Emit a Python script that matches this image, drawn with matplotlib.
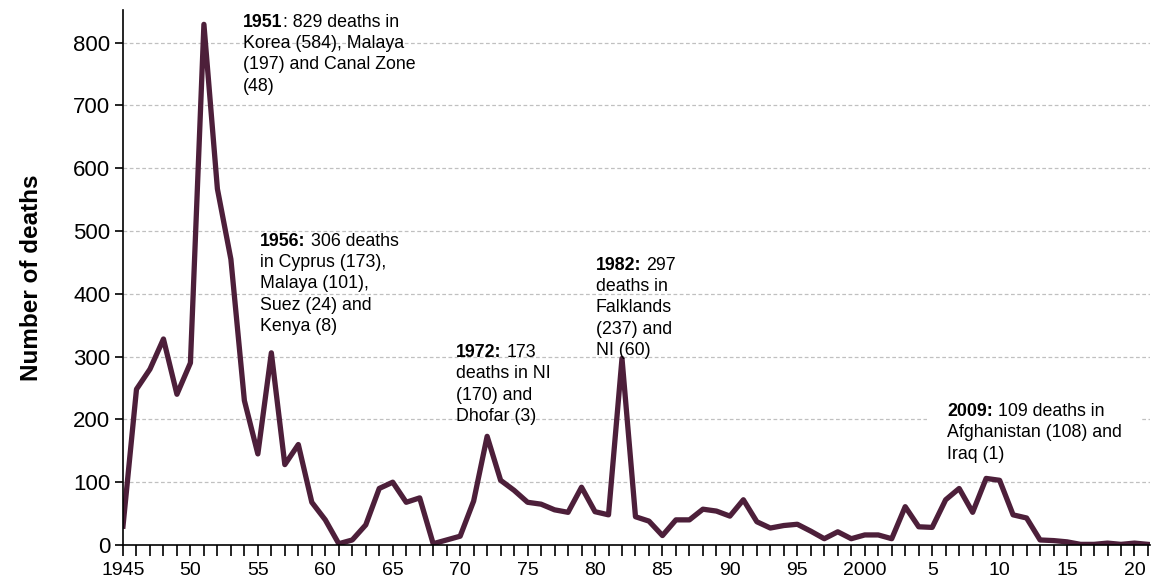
import matplotlib
matplotlib.use("Agg")
import matplotlib.pyplot as plt
from matplotlib.ticker import FixedLocator
from matplotlib.patches import Rectangle

plt.rcParams['font.family'] = ['Liberation Sans', 'DejaVu Sans']

years = list(range(1945, 2022))
deaths = [30, 248, 280, 328, 240, 290, 829, 567, 455, 230,
          145, 306, 128, 160, 68, 40, 2, 8, 32, 90,
          100, 68, 75, 2, 8, 14, 70, 173, 103, 87,
          68, 65, 56, 52, 92, 53, 48, 297, 45, 38,
          15, 40, 40, 57, 54, 46, 72, 37, 27, 31,
          33, 22, 10, 21, 10, 16, 16, 10, 61, 29,
          28, 72, 90, 52, 106, 103, 48, 43, 8, 7,
          5, 1, 1, 3, 1, 3, 1]

major_years = list(range(1945, 2021, 5))
major_labels = ["1945", "50", "55", "60", "65", "70", "75", "80", "85",
                "90", "95", "2000", "5", "10", "15", "20"]

annotations = [
    (1953.9, 846, "1951", ": 829 deaths in", "Korea (584), Malaya\n(197) and Canal Zone\n(48)", False),
    (1955.15, 497, "1956:", " 306 deaths", "in Cyprus (173),\nMalaya (101),\nSuez (24) and\nKenya (8)", False),
    (1969.7, 320, "1972:", " 173", "deaths in NI\n(170) and\nDhofar (3)", False),
    (1980.05, 459, "1982:", " 297", "deaths in\nFalklands\n(237) and\nNI (60)", False),
    (2006.1, 226, "2009:", " 109 deaths in", "Afghanistan (108) and\nIraq (1)", True),
]

ANN_FS = 12.8
LS = 1.33

fig = plt.figure(figsize=(11.56, 5.83), dpi=100)
ax = fig.add_axes([0.1064, 0.0652, 0.8884, 0.9178])

ax.plot(years, deaths, color='#4d1f3a', lw=3.8, zorder=3)

ax.set_xlim(1945, 2021.15)
ax.set_ylim(0, 852)
ax.set_yticks(range(0, 900, 100))
ax.xaxis.set_major_locator(FixedLocator(major_years))
ax.set_xticklabels(major_labels)
ax.xaxis.set_minor_locator(FixedLocator(years))

for y in range(100, 900, 100):
    ax.axhline(y, color='#c0c0c0', lw=0.9, ls=(0, (3, 2)), zorder=1)

for s in ['top', 'right']:
    ax.spines[s].set_visible(False)
for s in ['left', 'bottom']:
    ax.spines[s].set_linewidth(1.2)
    ax.spines[s].set_zorder(4)

ax.tick_params(axis='y', which='major', length=6, width=1.2, labelsize=16, pad=3, direction='out')
ax.tick_params(axis='x', which='both', length=8, width=1.2, labelsize=14, pad=4, direction='out')

ax.set_ylabel("Number of deaths", fontsize=17.5, fontweight='bold', labelpad=22)

fig.canvas.draw()
r = fig.canvas.get_renderer()
inv = ax.transData.inverted()

# measure line step and space width for the annotation font
tmp1 = fig.text(0, 0, "lp", fontsize=ANN_FS, linespacing=LS)
tmp2 = fig.text(0, 0, "lp\nlp", fontsize=ANN_FS, linespacing=LS)
tmp3 = fig.text(0, 0, "a a", fontsize=ANN_FS)
tmp4 = fig.text(0, 0, "aa", fontsize=ANN_FS)
step_px = tmp2.get_window_extent(r).height - tmp1.get_window_extent(r).height
space_px = tmp3.get_window_extent(r).width - tmp4.get_window_extent(r).width
for tt in (tmp1, tmp2, tmp3, tmp4):
    tt.remove()
step_pt = step_px * 72.0 / fig.dpi

for x, y, bold, rest, more, box in annotations:
    t = ax.text(x, y, bold, fontsize=ANN_FS, fontweight='bold', va='top', ha='left',
                linespacing=LS, zorder=5)
    bb = t.get_window_extent(r)
    gap = 0.5
    if rest.startswith(" "):
        gap += space_px
        rest = rest[1:]
    x2 = inv.transform((bb.x1 + gap, bb.y1))[0]
    t2 = ax.text(x2, y, rest, fontsize=ANN_FS, va='top', ha='left', linespacing=LS, zorder=5)
    t3 = ax.annotate(more, xy=(x, y), xytext=(0, -step_pt), textcoords='offset points',
                     fontsize=ANN_FS, va='top', ha='left', linespacing=LS, zorder=5)
    if box:
        fig.canvas.draw()
        boxes = [tx.get_window_extent(r) for tx in (t, t2, t3)]
        x0 = min(b.x0 for b in boxes) - 20
        x1 = max(b.x1 for b in boxes) + 18
        y0 = min(b.y0 for b in boxes) - 8
        y1 = max(b.y1 for b in boxes) + 8
        (dx0, dy0) = inv.transform((x0, y0))
        (dx1, dy1) = inv.transform((x1, y1))
        ax.add_patch(Rectangle((dx0, dy0), dx1 - dx0, dy1 - dy0, facecolor='white',
                               edgecolor='none', zorder=2))

fig.savefig("out.png", dpi=100)
